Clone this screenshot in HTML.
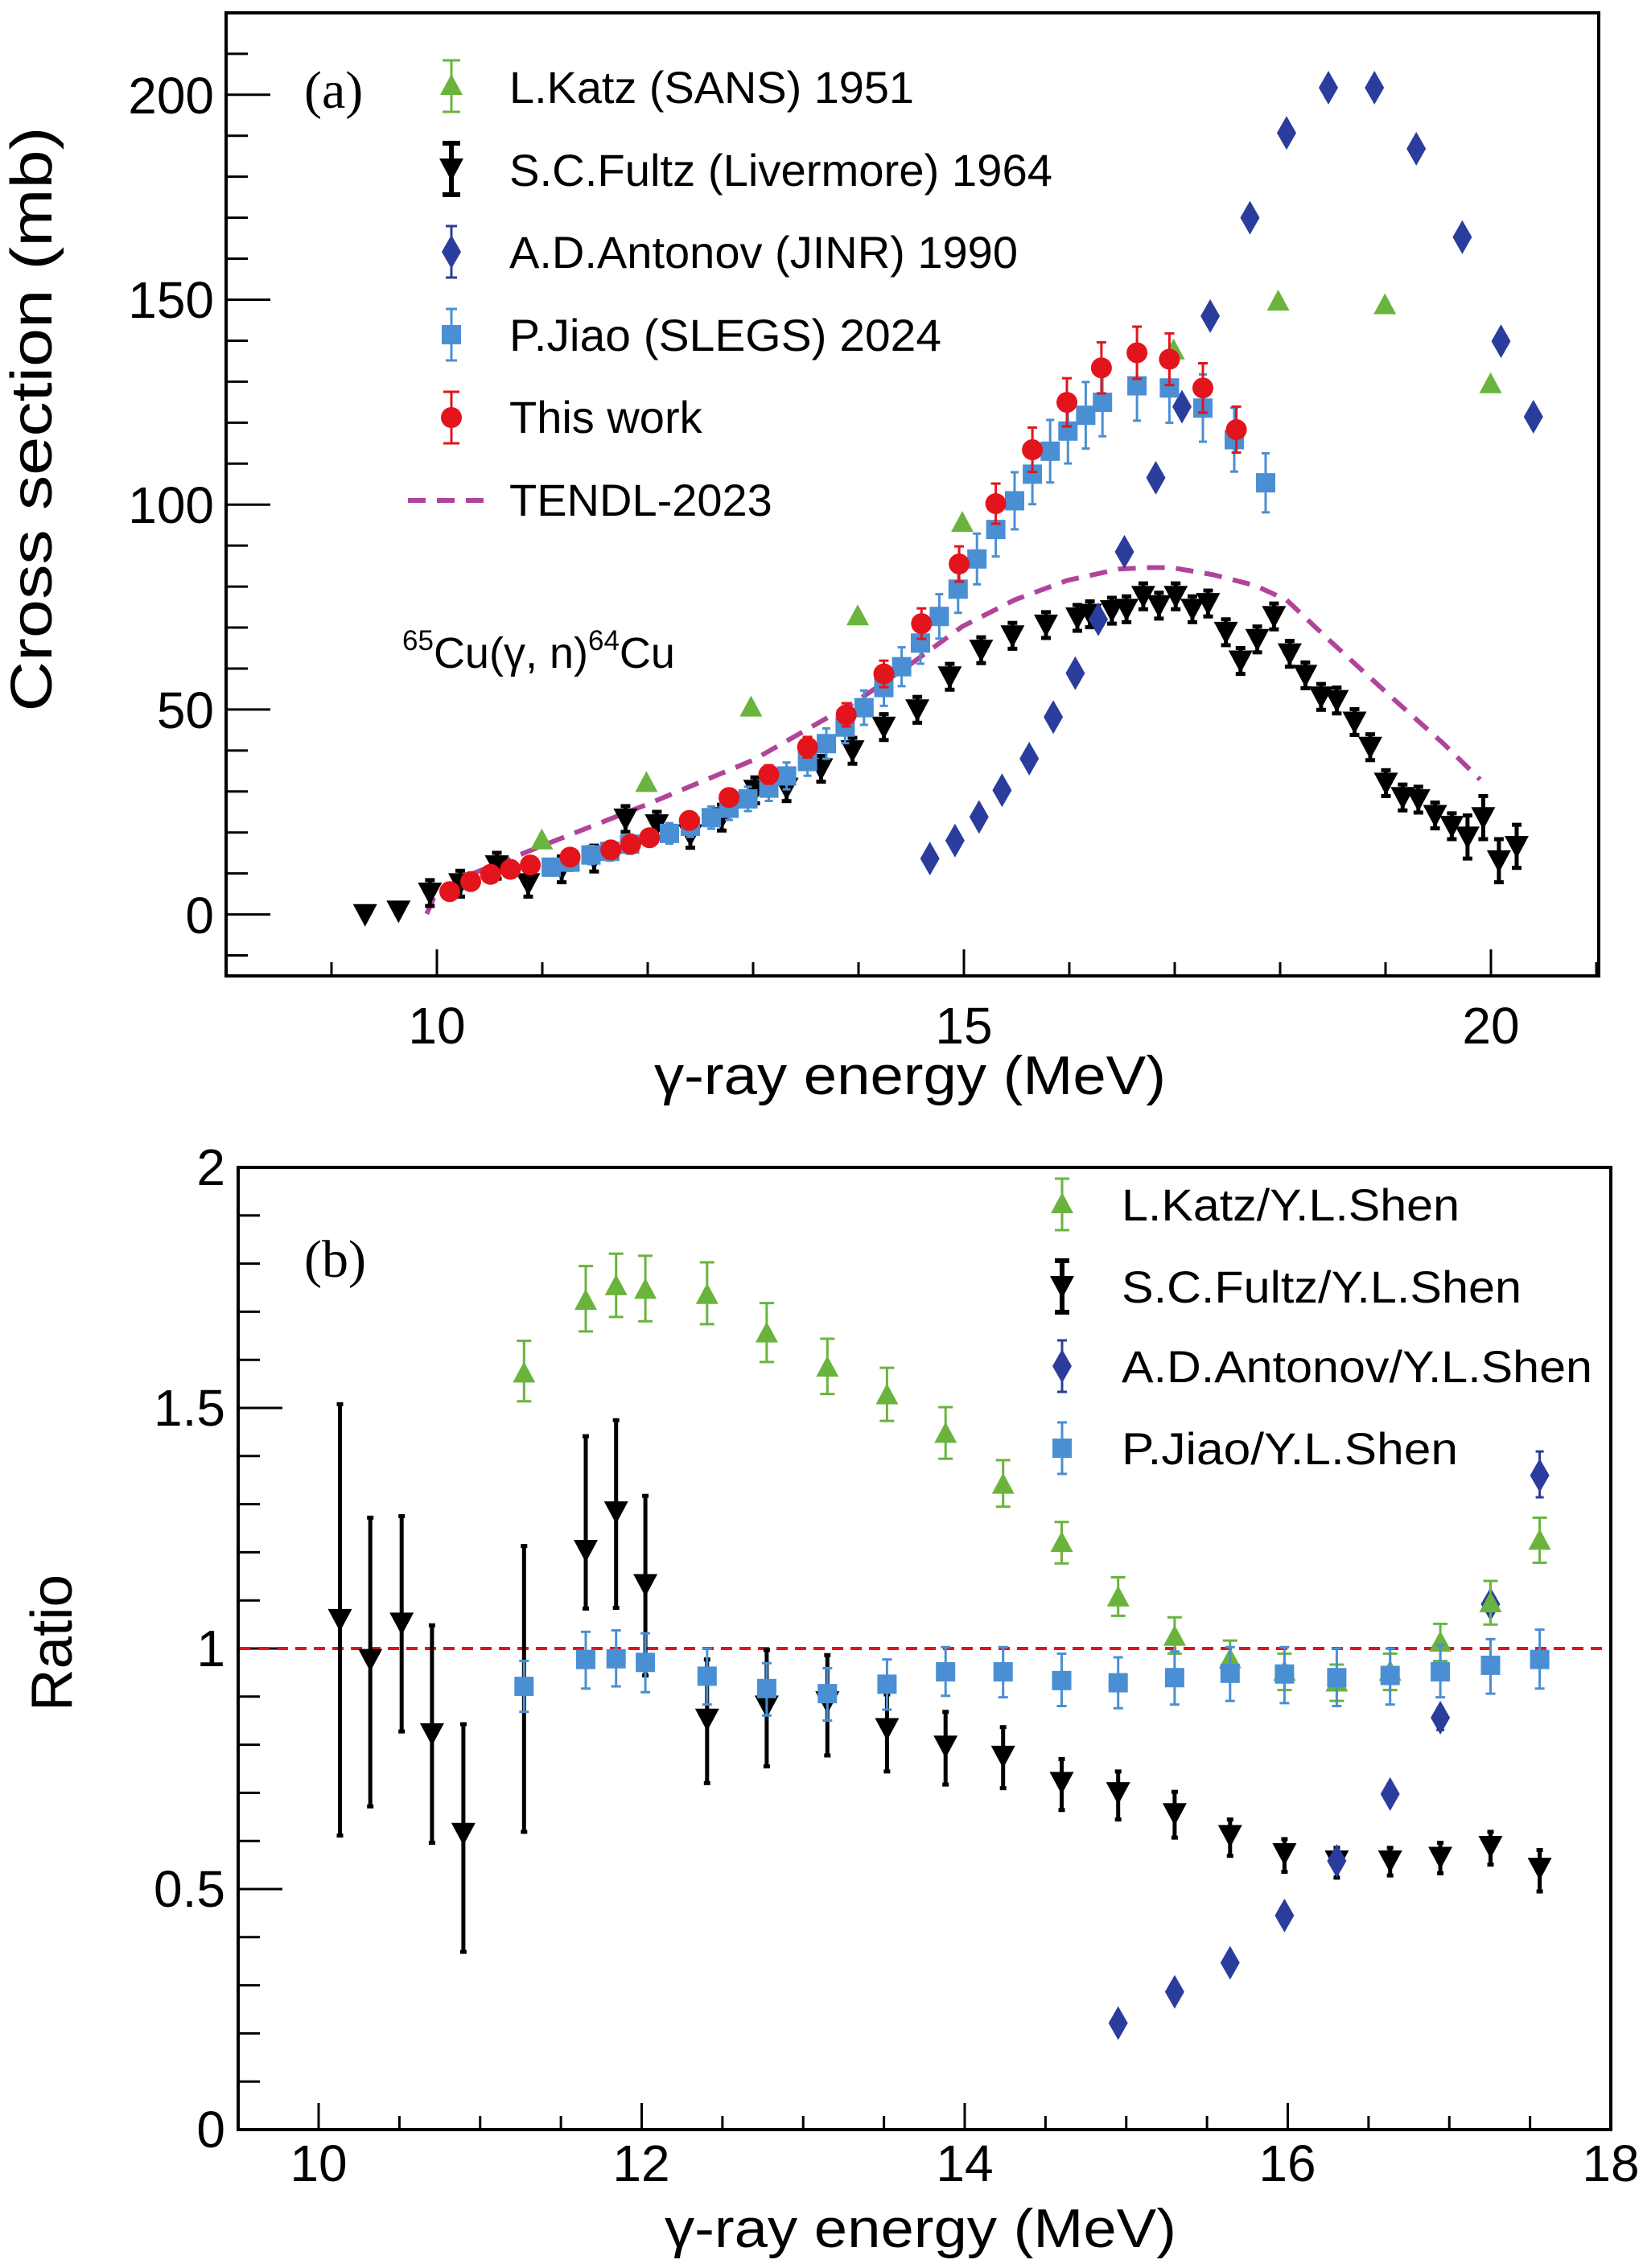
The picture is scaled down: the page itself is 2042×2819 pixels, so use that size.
<!DOCTYPE html>
<html><head><meta charset="utf-8"><style>
html,body{margin:0;padding:0;background:#fff;}
svg{display:block;}
text{font-family:"Liberation Sans",sans-serif;fill:#000;}
</style></head><body>
<svg id="s" width="2042" height="2819" viewBox="0 0 2042 2819" xmlns="http://www.w3.org/2000/svg">
<rect width="2042" height="2819" fill="#fff"/>
<g id="g"></g>
<g font-size="64" text-anchor="end">
<text x="266" y="141">200</text>
<text x="266" y="395">150</text>
<text x="266" y="650">100</text>
<text x="266" y="905">50</text>
<text x="266" y="1160">0</text>
</g>
<g font-size="64" text-anchor="middle">
<text x="543" y="1297">10</text>
<text x="1198" y="1297">15</text>
<text x="1853" y="1297">20</text>
</g>
<text x="1131" y="1360" font-size="68" text-anchor="middle" textLength="636" lengthAdjust="spacingAndGlyphs">γ-ray energy (MeV)</text>
<text transform="translate(64,521) rotate(-90)" font-size="72" text-anchor="middle" textLength="727" lengthAdjust="spacingAndGlyphs">Cross section (mb)</text>
<text x="378" y="134" font-size="66" style="font-family:'Liberation Serif',serif">(a)</text>
<g font-size="56">
<text x="633" y="128" textLength="503" lengthAdjust="spacingAndGlyphs">L.Katz (SANS) 1951</text>
<text x="633" y="231" textLength="675" lengthAdjust="spacingAndGlyphs">S.C.Fultz (Livermore) 1964</text>
<text x="633" y="333" textLength="632" lengthAdjust="spacingAndGlyphs">A.D.Antonov (JINR) 1990</text>
<text x="633" y="436" textLength="537" lengthAdjust="spacingAndGlyphs">P.Jiao (SLEGS) 2024</text>
<text x="633" y="538">This work</text>
<text x="633" y="641">TENDL-2023</text>
</g>
<text x="500" y="830" font-size="54"><tspan font-size="35" dy="-22">65</tspan><tspan dy="22">Cu(γ, n)</tspan><tspan font-size="35" dy="-22">64</tspan><tspan dy="22">Cu</tspan></text>
<g font-size="64" text-anchor="end">
<text x="280" y="1473">2</text>
<text x="280" y="1772">1.5</text>
<text x="280" y="2071">1</text>
<text x="280" y="2370">0.5</text>
<text x="280" y="2669">0</text>
</g>
<g font-size="64" text-anchor="middle">
<text x="396" y="2711">10</text>
<text x="797" y="2711">12</text>
<text x="1199" y="2711">14</text>
<text x="1600" y="2711">16</text>
<text x="2002" y="2711">18</text>
</g>
<text x="1144" y="2793" font-size="68" text-anchor="middle" textLength="636" lengthAdjust="spacingAndGlyphs">γ-ray energy (MeV)</text>
<text transform="translate(89,2042) rotate(-90)" font-size="72" text-anchor="middle" textLength="170" lengthAdjust="spacingAndGlyphs">Ratio</text>
<text x="378" y="1587" font-size="66" style="font-family:'Liberation Serif',serif">(b)</text>
<g font-size="56">
<text x="1394" y="1517" textLength="420" lengthAdjust="spacingAndGlyphs">L.Katz/Y.L.Shen</text>
<text x="1394" y="1619" textLength="497" lengthAdjust="spacingAndGlyphs">S.C.Fultz/Y.L.Shen</text>
<text x="1394" y="1718" textLength="585" lengthAdjust="spacingAndGlyphs">A.D.Antonov/Y.L.Shen</text>
<text x="1394" y="1820" textLength="418" lengthAdjust="spacingAndGlyphs">P.Jiao/Y.L.Shen</text>
</g>
</svg>
<script>
var g=document.getElementById('g'),NS='http://www.w3.org/2000/svg';
function el(t,a){var e=document.createElementNS(NS,t);for(var k in a)e.setAttribute(k,a[k]);g.appendChild(e);return e;}
function line(x1,y1,x2,y2,c,w,extra){var a={x1:x1,y1:y1,x2:x2,y2:y2,stroke:c,'stroke-width':w};if(extra)for(var k in extra)a[k]=extra[k];return el('line',a);}
var GR='#6ab43e',BK='#000',DB='#2b3d9c',LB='#4a8fd4',RD='#e3141b',MG='#b0449a';
function mk(type,x,y,c){
 if(type=='tu')el('polygon',{points:(x)+','+(y-15)+' '+(x-14)+','+(y+11)+' '+(x+14)+','+(y+11),fill:c});
 else if(type=='td')el('polygon',{points:(x-15)+','+(y-13)+' '+(x+15)+','+(y-13)+' '+x+','+(y+15),fill:c});
 else if(type=='di')el('polygon',{points:x+','+(y-21)+' '+(x+12)+','+y+' '+x+','+(y+21)+' '+(x-12)+','+y,fill:c});
 else if(type=='sq')el('rect',{x:x-12,y:y-12,width:24,height:24,fill:c});
 else if(type=='ci')el('circle',{cx:x,cy:y,r:13,fill:c});
}
function eb(x,y1,y2,c,w,cap){line(x,y1,x,y2,c,w);line(x-cap,y1,x+cap,y1,c,w);line(x-cap,y2,x+cap,y2,c,w);}
el('rect',{x:281,y:16,width:1706,height:1197,fill:'none',stroke:'#000','stroke-width':4});
function ya(v){return 1136.6-5.094*v;}
for(var v=-10;v<=220;v+=10){var y=ya(v);var maj=(v%50==0);line(281,y,281+(maj?55:27),y,'#000',3);}
for(var E=8;E<=21;E++){var x=543+131*(E-10);var maj=(E%5==0);line(x,1213,x,1213-(maj?33:17),'#000',3);}
function A(p){return [1.3*p[0],0.893*p[1]];}
var td=[[408,1272],[416,1245],[450,1217],[517,1178],[618,1120],[720,1058],[820,975],[870,925],[920,872],[970,835],[1020,808],[1070,792],[1100,790],[1120,790],[1160,800],[1200,815],[1230,835],[1270,890],[1330,970],[1380,1035],[1415,1085]];
el('polyline',{points:td.map(function(p){return A(p).join(',')}).join(' '),fill:'none',stroke:MG,'stroke-width':6,'stroke-dasharray':'22,14'});
var fu=[[349,1273],[381,1268],[411,1243],[440,1230],[475,1205],[505,1230],[537,1210],[568,1195],[598,1140],[628,1148],[660,1162],[690,1138],[722,1100],[752,1097],[785,1070],[815,1045],[845,1012],[877,988],[908,942],[938,905],[968,885],[1000,870],[1030,860],[1042,855],[1063,850],[1077,848],[1093,830],[1108,843],[1124,830],[1140,848],[1155,840],[1172,880],[1186,920],[1202,890],[1218,858],[1233,910],[1248,940],[1263,970],[1278,975],[1295,1005],[1310,1040],[1325,1090],[1341,1110],[1356,1113],[1372,1135],[1388,1150],[1403,1165],[1418,1138],[1433,1198],[1450,1178]];
fu.forEach(function(p,i){var q=A(p);if(i>1){var e=(p[0]>1400?30:18)*0.893;eb(q[0],q[1]-e,q[1]+e,BK,5,6);}mk('td',q[0],q[1],BK);});
[[889,1195],[913,1170],[936,1137],[958,1100],[984,1056],[1007,998],[1028,937],[1050,862],[1075,768],[1105,665],[1130,566],[1157,440],[1195,303],[1230,185],[1270,122],[1314,122],[1354,207],[1398,330],[1435,475],[1466,580]].forEach(function(p){var q=A(p);mk('di',q[0],q[1],DB);});
[[518,1170],[618,1090],[718,985],[820,858],[920,728],[1122,488],[1222,420],[1324,425],[1425,535]].forEach(function(p){var q=A(p);mk('tu',q[0],q[1],GR);});
var ji=[[527,1207],[545,1200],[565,1190],[583,1185],[602,1175],[640,1160],[660,1150],[680,1138],[697,1125],[715,1112],[735,1097],[752,1080],[772,1060],[790,1035],[808,1012],[826,985],[845,957],[862,928],[880,895],[898,858],[916,820],[934,778],[952,737],[970,697],[987,660],[1004,628],[1021,600],[1038,578],[1054,560],[1087,537],[1118,540],[1150,568],[1180,612],[1210,672]];
ji.forEach(function(p){var q=A(p);var e=(8+0.055*(1274-p[1]))*0.893;eb(q[0],q[1]-e,q[1]+e,LB,3,5);mk('sq',q[0],q[1],LB);});
var rw=[[430,1241],[450,1227],[469,1217],[488,1210],[507,1204],[545,1193],[584,1183],[603,1175],[621,1166],[659,1142],[697,1110],[735,1078],[772,1040],[809,995],[845,938],[881,868],[917,785],[952,701],[987,626],[1020,560],[1053,512],[1087,491],[1118,500],[1150,540],[1182,598]];
rw.forEach(function(p){var q=A(p);var e=(5+0.04*(1274-p[1]))*0.893;eb(q[0],q[1]-e,q[1]+e,RD,3,6);mk('ci',q[0],q[1],RD);});
var lx=561,ly=[107,210,313,416,519,622];
eb(lx,ly[0]-32,ly[0]+32,GR,3,11);mk('tu',lx,ly[0],GR);
eb(lx,ly[1]-32,ly[1]+32,BK,6,11);mk('td',lx,ly[1],BK);
eb(lx,ly[2]-32,ly[2]+32,DB,3,7);mk('di',lx,ly[2],DB);
eb(lx,ly[3]-32,ly[3]+32,LB,3,7);mk('sq',lx,ly[3],LB);
eb(lx,ly[4]-32,ly[4]+32,RD,3,10);mk('ci',lx,ly[4],RD);
line(507,ly[5],611,ly[5],MG,6,{'stroke-dasharray':'22,14'});
el('rect',{x:296,y:1451,width:1706,height:1196,fill:'none',stroke:'#000','stroke-width':4});
function yb(r){return 2647-598*r;}
for(var i=0;i<=20;i++){var y=yb(i/10);var maj=(i%5==0);line(296,y,296+(maj?55:27),y,'#000',3);}
for(var i=19;i<=36;i++){var E=i/2;var x=396+200.75*(E-10);var maj=(i%4==0);line(x,2647,x,2647-(maj?33:17),'#000',3);}
line(298,yb(1),2000,yb(1),'#e3141b',4,{'stroke-dasharray':'14,9'});
function by(zy){return 1400+0.904*zy;}
[[325,678,382,975],[354,733,538,935],[384,683,536,832],[413,835,686,985],[443,972,822,1135],[501,null,577,970],[560,583,426,663],[589,530,404,662],[617,630,508,755],[676,815,733,903],[733,797,720,880],[791,791,727,865],[848,828,781,887],[904,852,805,905],[959,866,826,910],[1015,902,870,940],[1069,916,887,953],[1123,945,915,978],[1176,975,953,1003],[1228,1000,980,1025],[1278,1010,992,1033],[1329,1010,992,1030],[1377,1005,985,1027],[1425,990,970,1015],[1472,1020,995,1052]].forEach(function(d){var x=1.3*d[0];eb(x,by(d[2]),by(d[3]),BK,5,4);if(d[1]!=null)mk('td',x,by(d[1]),BK);});
[[1069,1233],[1123,1190],[1176,1150],[1228,1085],[1278,1010],[1329,918],[1377,813,800,830],[1425,657],[1472,480,447,510]].forEach(function(d){var x=1.3*d[0];if(d[2])eb(x,by(d[2]),by(d[3]),DB,3,5);mk('di',x,by(d[1]),DB);});
[[501,340,295,378],[560,240,192,282],[589,220,175,262],[617,225,178,268],[676,232,187,272],[733,285,243,324],[791,332,292,368],[848,370,332,405],[904,423,386,457],[959,493,459,523],[1015,573,544,601],[1069,648,620,673],[1123,702,675,725],[1176,733,707,757],[1228,750,725,775],[1278,765,740,790],[1329,750,725,775],[1377,710,684,735],[1425,656,625,685],[1472,570,538,600]].forEach(function(d){var x=1.3*d[0];eb(x,by(d[2]),by(d[3]),GR,3,9);mk('tu',x,by(d[1]),GR);});
[[501,770,735,805],[560,733,695,773],[589,732,693,770],[617,737,697,778],[676,756,718,795],[733,773,738,810],[791,780,745,817],[848,767,733,802],[904,750,716,783],[959,750,716,785],[1015,762,725,797],[1069,765,730,800],[1123,758,722,795],[1176,752,716,790],[1228,753,716,793],[1278,758,718,797],[1329,755,718,795],[1377,750,713,785],[1425,741,705,780],[1472,733,692,773]].forEach(function(d){var x=1.3*d[0];eb(x,by(d[2]),by(d[3]),LB,3,6);mk('sq',x,by(d[1]),LB);});
var bx=1320,bl=[1497,1599,1698,1800];
eb(bx,bl[0]-32,bl[0]+32,GR,3,9);mk('tu',bx,bl[0],GR);
eb(bx,bl[1]-32,bl[1]+32,BK,6,9);mk('td',bx,bl[1],BK);
eb(bx,bl[2]-32,bl[2]+32,DB,3,6);mk('di',bx,bl[2],DB);
eb(bx,bl[3]-32,bl[3]+32,LB,3,6);mk('sq',bx,bl[3],LB);
</script>
</body></html>
